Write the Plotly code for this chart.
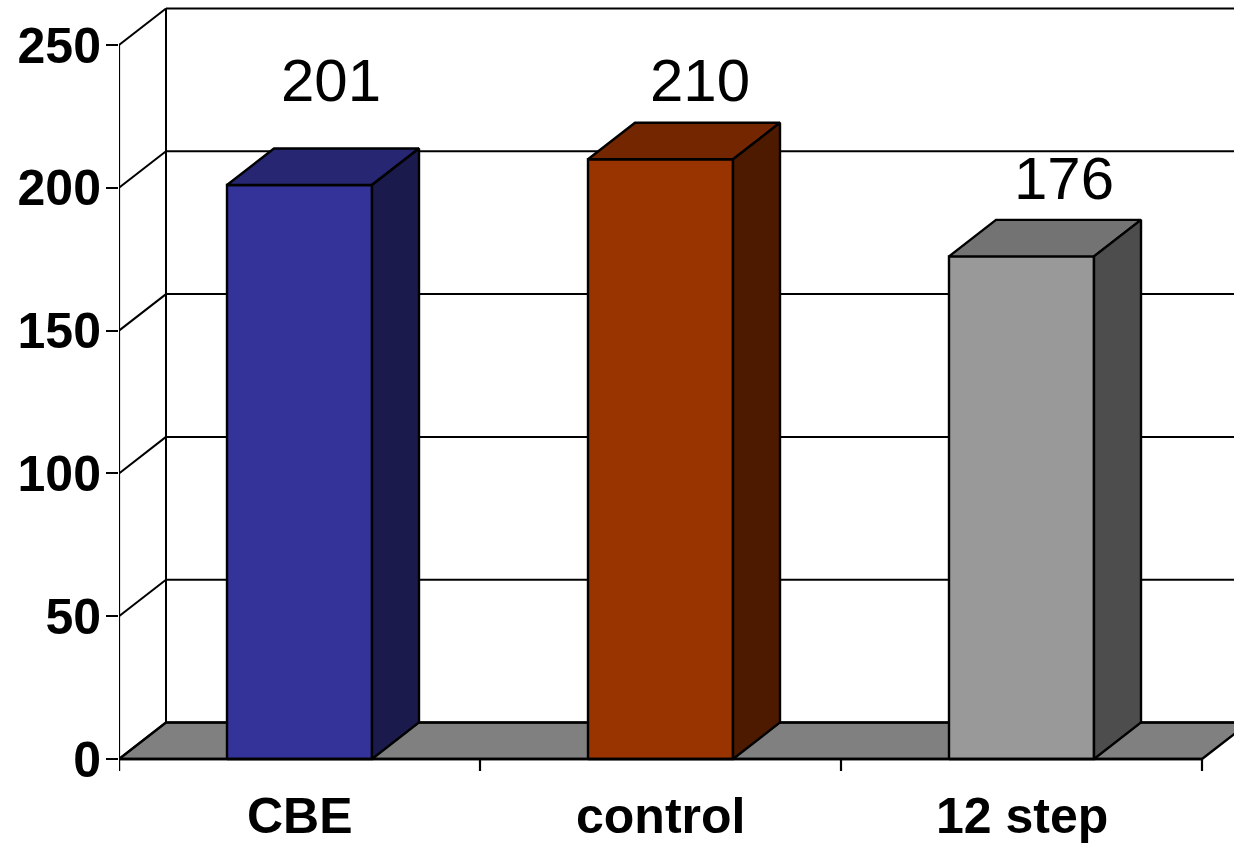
import plotly.graph_objects as go

# ---- data -------------------------------------------------------------
categories = ["CBE", "control", "12 step"]
values = [201, 210, 176]
y_ticks = [0, 50, 100, 150, 200, 250]

front_colors = ["#333399", "#993300", "#999999"]
top_colors = ["#262673", "#732600", "#737373"]
side_colors = ["#1a1a4d", "#4d1a00", "#4d4d4d"]

# ---- 3-D geometry (in axis units) -------------------------------------
PX_PER_UNIT = 714 / 250          # vertical pixels per value unit
PX_PER_CAT = 361                 # horizontal pixels per category
DX = 47 / PX_PER_CAT             # depth offset along x
DY = 36.5 / PX_PER_UNIT          # depth offset along y
HALF_W = 72.5 / PX_PER_CAT       # half bar width
Y_MIN = -85 / PX_PER_UNIT
Y_MAX = 759 / PX_PER_UNIT
X_MIN = -0.5
X_MAX = X_MIN + (1234 - 119) / PX_PER_CAT
Y_TOP = max(y_ticks)
N = len(categories)

# value-label placement relative to each bar
label_dx = [0.087, 0.109, 0.118]
label_dy = [36.4, 27.4, 27.4]

GRID_W = 2
EDGE_W = 2.4

fig = go.Figure()

shapes = []
# floor
fx0, fx1 = X_MIN, X_MIN + N
shapes.append(dict(
    type="path", layer="below",
    path=f"M {fx0},0 L {fx1},0 L {fx1 + DX},{DY} L {fx0 + DX},{DY} Z",
    fillcolor="#808080", line=dict(color="black", width=EDGE_W)))
# gridlines on the side and back walls
for v in y_ticks:
    shapes.append(dict(type="line", layer="below", x0=X_MIN, y0=v,
                       x1=X_MIN + DX, y1=v + DY,
                       line=dict(color="black", width=GRID_W)))
    shapes.append(dict(type="line", layer="below", x0=X_MIN + DX, y0=v + DY,
                       x1=X_MAX + 1, y1=v + DY,
                       line=dict(color="black", width=GRID_W)))
# back wall corner
shapes.append(dict(type="line", layer="below", x0=X_MIN + DX, y0=DY,
                   x1=X_MIN + DX, y1=Y_TOP + DY,
                   line=dict(color="black", width=GRID_W)))
# value axis line
shapes.append(dict(type="line", layer="above", x0=X_MIN, y0=-12 / PX_PER_UNIT,
                   x1=X_MIN, y1=Y_TOP, line=dict(color="black", width=2.2)))
# category axis line and boundary ticks
shapes.append(dict(type="line", layer="above", x0=X_MIN, y0=0,
                   x1=X_MIN + N, y1=0, line=dict(color="black", width=2.6)))
for k in range(N + 1):
    shapes.append(dict(type="line", layer="above", x0=X_MIN + k, y0=0,
                       x1=X_MIN + k, y1=-12 / PX_PER_UNIT,
                       line=dict(color="black", width=2.2)))

# bars: front, top and side faces
for i, (cat, v) in enumerate(zip(categories, values)):
    l, r = i - HALF_W, i + HALF_W
    faces = [
        ([l, r, r, l, l], [0, 0, v, v, 0], front_colors[i]),
        ([l, r, r + DX, l + DX, l], [v, v, v + DY, v + DY, v], top_colors[i]),
        ([r, r + DX, r + DX, r, r], [0, DY, v + DY, v, 0], side_colors[i]),
    ]
    for xs, ys, col in faces:
        fig.add_trace(go.Scatter(
            x=xs, y=ys, mode="lines", fill="toself", fillcolor=col,
            line=dict(color="black", width=EDGE_W), hoverinfo="skip",
            showlegend=False, name=cat))

annotations = []
for i, v in enumerate(values):
    annotations.append(dict(
        x=i + label_dx[i], y=v + label_dy[i], text=str(v), showarrow=False,
        xanchor="center", yanchor="middle",
        font=dict(family="Liberation Sans, Arial", size=60, color="black")))
for i, cat in enumerate(categories):
    annotations.append(dict(
        x=i, y=-20, text=cat, showarrow=False,
        xanchor="center", yanchor="middle",
        font=dict(family="Liberation Sans, Arial", size=50, color="black",
                  weight="bold")))

fig.update_layout(
    width=1234, height=844,
    margin=dict(l=119, r=0, t=0, b=0),
    paper_bgcolor="white", plot_bgcolor="white",
    shapes=shapes, annotations=annotations,
    xaxis=dict(range=[X_MIN, X_MAX], visible=False, fixedrange=True),
    yaxis=dict(range=[Y_MIN, Y_MAX], tickmode="array", tickvals=y_ticks,
               ticks="outside", ticklen=12, tickwidth=2.2, tickcolor="black",
               ticklabelstandoff=-5,
               showgrid=False, zeroline=False, showline=False,
               tickfont=dict(family="Liberation Sans, Arial", size=50,
                             color="black", weight="bold"),
               fixedrange=True),
)

fig.write_html("out.html")
